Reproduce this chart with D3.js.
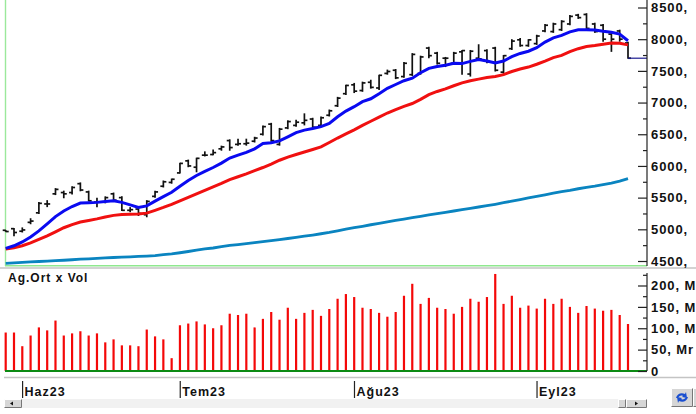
<!DOCTYPE html>
<html>
<head>
<meta charset="utf-8">
<script src="https://cdn.jsdelivr.net/npm/d3@7"></script>
<style>
html, body { margin: 0; padding: 0; background: #fff; overflow: hidden; }
svg { display: block; }
text { font-family: "Liberation Sans", Arial, sans-serif; font-weight: bold; fill: #111; }
</style>
</head>
<body>
<div id="chart"></div>
<script>
// Fiyat barlari
const high = [4990,5020,5030,5175,5430,5460,5650,5610,5680,5740,5610,5500,5520,5580,5520,5350,5350,5460,5610,5770,5800,6050,6100,6130,6230,6260,6320,6420,6430,6430,6460,6640,6680,6600,6720,6730,6830,6760,6780,6890,7090,7280,7310,7330,7360,7440,7520,7530,7640,7780,7740,7880,7800,7720,7800,7830,7830,7920,7840,7880,7750,8000,8020,8000,8070,8240,8260,8300,8380,8400,8410,8260,8240,8100,8150,7960];
const low = [4960,4890,4950,5080,5240,5350,5540,5490,5550,5600,5440,5350,5410,5440,5290,5270,5210,5190,5500,5660,5720,5880,5980,5900,6150,6170,6240,6240,6320,6320,6370,6480,6380,6320,6580,6620,6640,6590,6620,6780,6930,7120,7150,7170,7220,7200,7440,7370,7390,7420,7440,7700,7600,7560,7600,7440,7410,7670,7620,7490,7450,7830,7880,7880,7910,8110,8100,8130,8220,8320,8150,8100,7960,7800,7960,7690];
const open = [4985,5010,4970,5110,5260,5400,5560,5580,5580,5720,5590,5430,5430,5560,5500,5300,5320,5230,5520,5680,5740,5890,6080,5980,6170,6180,6270,6400,6340,6350,6390,6500,6660,6340,6600,6640,6680,6740,6640,6800,6950,7140,7280,7190,7320,7230,7460,7510,7410,7440,7460,7860,7780,7700,7620,7800,7450,7700,7820,7860,7480,7850,7990,7900,7930,8130,8120,8150,8240,8380,8390,8240,8220,8080,8130,7940];
const close = [4965,4950,4990,5130,5410,5400,5630,5560,5660,5620,5450,5430,5500,5460,5300,5310,5250,5440,5590,5750,5790,6040,6000,6120,6170,6210,6300,6290,6350,6360,6440,6620,6400,6580,6700,6690,6720,6610,6760,6870,7070,7270,7180,7310,7240,7430,7490,7390,7620,7760,7720,7740,7620,7700,7780,7820,7810,7690,7640,7510,7740,7970,7900,7990,8050,8220,8240,8280,8360,8340,8170,8120,8000,8000,8000,7700];

// Ortalamalar
const emaBlue = [4700,4740,4800,4880,4975,5085,5200,5290,5360,5415,5420,5425,5440,5450,5425,5385,5345,5370,5445,5515,5585,5680,5770,5850,5915,5975,6045,6125,6170,6215,6270,6355,6365,6395,6460,6525,6565,6590,6620,6670,6775,6865,6935,7015,7060,7140,7225,7285,7345,7385,7470,7540,7570,7590,7620,7615,7650,7680,7655,7625,7655,7725,7775,7810,7865,7955,8020,8060,8115,8150,8150,8145,8125,8110,8080,7975];
const emaRed = [4690,4710,4740,4785,4840,4895,4960,5025,5075,5115,5140,5165,5195,5220,5235,5237,5240,5255,5300,5345,5395,5450,5505,5560,5615,5670,5725,5785,5830,5875,5925,5975,6030,6090,6140,6180,6220,6260,6300,6370,6440,6505,6570,6640,6705,6770,6835,6890,6940,6985,7050,7125,7175,7215,7265,7310,7345,7370,7395,7410,7440,7490,7530,7560,7605,7655,7710,7745,7805,7850,7885,7900,7920,7940,7935,7910];
const smaTeal = [4463,4470,4478,4485,4492,4498,4505,4512,4520,4528,4535,4541,4548,4555,4560,4566,4572,4578,4585,4600,4612,4630,4650,4672,4690,4705,4725,4745,4760,4775,4790,4805,4822,4838,4855,4873,4892,4910,4930,4950,4975,5003,5025,5048,5072,5095,5118,5140,5162,5183,5205,5226,5247,5268,5289,5310,5331,5352,5373,5395,5420,5445,5470,5495,5520,5545,5570,5595,5615,5640,5660,5680,5705,5730,5760,5800];
const lastPrice = 7700;

// Hacim (Mr)
const volume = [90,90,58,83,102,95,118,83,88,93,83,88,67,74,60,60,58,97,81,74,30,107,111,116,109,100,107,134,131,134,102,122,138,120,148,122,136,143,129,145,169,180,173,148,145,136,127,138,176,204,157,171,148,145,134,150,169,162,173,227,157,176,148,153,146,169,157,169,150,136,152,146,141,143,131,110];

// Eksen etiketleri
const priceTicks = [4500,5000,5500,6000,6500,7000,7500,8000,8500];
const priceMinor = [4750,5250,5750,6250,6750,7250,7750,8250];
const volTicks = [0,50,100,150,200];
const volMinor = [25,75,125,175,225];
const volLabels = ["0","50, Mr","100, Mr","150, Mr","200, Mr"];
const monthIdx = [2,21,42,64];
const monthLabels = ["Haz23","Tem23","Ağu23","Eyl23"];

const width = 696, height = 414;
const axisX = 647;

const svg = d3.select('#chart').append('svg')
    .attr('width', width).attr('height', height)
    .attr('viewBox', `0 0 ${width} ${height}`);

const x = d3.scaleLinear().domain([0, 75]).range([5.7, 628]);
const y = d3.scaleLinear().domain([4500, 8500]).range([261, 7.5]);
const yVol = d3.scaleLinear().domain([0, 200]).range([371, 285.5]);

// Cerceve cizgileri
svg.append('line').attr('x1', 5.5).attr('x2', 5.5).attr('y1', 0).attr('y2', 266).attr('stroke', '#9be89b').attr('stroke-width', 1.4);
svg.append('line').attr('x1', 5).attr('x2', axisX).attr('y1', 265.8).attr('y2', 265.8).attr('stroke', '#8fe88f').attr('stroke-width', 1.5);
svg.append('line').attr('x1', 0).attr('x2', 696).attr('y1', 268).attr('y2', 268).attr('stroke', '#c4c4c4').attr('stroke-width', 1.5);
svg.append('line').attr('x1', 4).attr('x2', 696).attr('y1', 377.5).attr('y2', 377.5).attr('stroke', '#c4c4c4').attr('stroke-width', 1.5);

// Hareketli ortalamalar
const line = d3.line().x((d, i) => x(i)).y(d => y(d));
svg.append('path').datum(smaTeal).attr('d', line).attr('fill', 'none').attr('stroke', '#0a84c0').attr('stroke-width', 2.8);

// OHLC barlari
const bars = svg.append('g').attr('stroke', '#111').attr('stroke-width', 1.7);
high.forEach((h, i) => {
    bars.append('line').attr('x1', x(i)).attr('x2', x(i)).attr('y1', y(h)).attr('y2', y(low[i]));
    bars.append('line').attr('x1', x(i) - 3).attr('x2', x(i)).attr('y1', y(open[i])).attr('y2', y(open[i]));
    bars.append('line').attr('x1', x(i)).attr('x2', x(i) + 3).attr('y1', y(close[i])).attr('y2', y(close[i]));
});

svg.append('path').datum(emaRed).attr('d', line).attr('fill', 'none').attr('stroke', '#f01010').attr('stroke-width', 3);
svg.append('path').datum(emaBlue).attr('d', line).attr('fill', 'none').attr('stroke', '#0a0af0').attr('stroke-width', 3);

// Son fiyat cizgisi
svg.append('line').attr('x1', x(75)).attr('x2', axisX).attr('y1', y(lastPrice)).attr('y2', y(lastPrice)).attr('stroke', '#1a1a90').attr('stroke-width', 1.2);

// Hacim barlari
svg.append('g').selectAll('line').data(volume).enter().append('line')
    .attr('x1', (d, i) => x(i)).attr('x2', (d, i) => x(i))
    .attr('y1', d => yVol(d)).attr('y2', yVol(0))
    .attr('stroke', '#f40808').attr('stroke-width', 2.2);
svg.append('line').attr('x1', 5).attr('x2', axisX).attr('y1', yVol(0)).attr('y2', yVol(0)).attr('stroke', '#0c8a14').attr('stroke-width', 2);

// Fiyat ekseni
function styleAxis(g, labelX) {
    g.select('.domain').remove();
    g.selectAll('.tick line').attr('stroke', '#222').attr('stroke-width', 1.2);
    g.selectAll('.tick text')
        .attr('x', labelX).attr('text-anchor', 'start')
        .style('font-size', '13px').style('letter-spacing', '0.9px')
        .attr('font-family', null);
}
svg.append('g').attr('transform', `translate(${axisX},0)`)
    .call(d3.axisLeft(y).tickValues(priceTicks).tickSize(9).tickFormat(d => d + ','))
    .call(g => styleAxis(g, 4));
svg.append('g').attr('transform', `translate(${axisX},0)`)
    .call(d3.axisLeft(y).tickValues(priceMinor).tickSize(4).tickFormat(''))
    .call(g => styleAxis(g, 4));
svg.append('line').attr('x1', axisX).attr('x2', axisX).attr('y1', 0).attr('y2', 266).attr('stroke', '#222').attr('stroke-width', 1.2);

// Hacim ekseni
svg.append('g').attr('transform', `translate(${axisX},0)`)
    .call(d3.axisLeft(yVol).tickValues(volTicks).tickSize(9).tickFormat((d, i) => volLabels[i]))
    .call(g => styleAxis(g, 4));
svg.append('g').attr('transform', `translate(${axisX},0)`)
    .call(d3.axisLeft(yVol).tickValues(volMinor).tickSize(4).tickFormat(''))
    .call(g => styleAxis(g, 4));
svg.append('line').attr('x1', axisX).attr('x2', axisX).attr('y1', 273).attr('y2', yVol(0)).attr('stroke', '#222').attr('stroke-width', 1.2);

// Panel basligi
svg.append('text').attr('x', 8).attr('y', 282)
    .style('font-size', '12px').style('letter-spacing', '1px').text('Ag.Ort x Vol');

// Ay etiketleri
monthIdx.forEach((m, i) => {
    const mx = x(m) + 0.3;
    svg.append('line').attr('x1', mx).attr('x2', mx).attr('y1', 381).attr('y2', 398).attr('stroke', '#222').attr('stroke-width', 1.2);
    svg.append('text').attr('x', mx + 2).attr('y', 396)
        .style('font-size', '12.5px').style('letter-spacing', '1px').text(monthLabels[i]);
});

// Kaydirma cubugu
svg.append('rect').attr('x', 22).attr('y', 399).attr('width', 596).attr('height', 9).attr('fill', '#f1f1f1');
function button(bx, by, w, h) {
    svg.append('rect').attr('x', bx).attr('y', by).attr('width', w).attr('height', h).attr('fill', '#d6d6d6');
    svg.append('path').attr('d', `M${bx},${by + h}V${by}H${bx + w}`).attr('fill', 'none').attr('stroke', '#fff');
    svg.append('path').attr('d', `M${bx},${by + h}H${bx + w}V${by}`).attr('fill', 'none').attr('stroke', '#777');
}
button(4.5, 399.5, 17, 8);
button(618.5, 399.5, 7, 8);
button(626.5, 399.5, 20, 8);
svg.append('path').attr('d', 'M10,403.5l3,-2v4z').attr('fill', '#111');
svg.append('path').attr('d', 'M638,403.5l-3,-2v4z').attr('fill', '#111');

// Yenile dugmesi
button(671.5, 388.5, 21, 18);
button(693.5, 388.5, 4, 18);
svg.append('path').attr('d', 'M676,398c1,-4 5,-6 9,-4l1,-2 1,6 -5,-1 1,-1c-2,-1 -4,0 -5,2z').attr('fill', '#1a4fd0');
svg.append('path').attr('d', 'M688,397c-1,4 -5,6 -9,4l-1,2 -1,-6 5,1 -1,1c2,1 4,0 5,-2z').attr('fill', '#1a4fd0');
</script>
</body>
</html>
